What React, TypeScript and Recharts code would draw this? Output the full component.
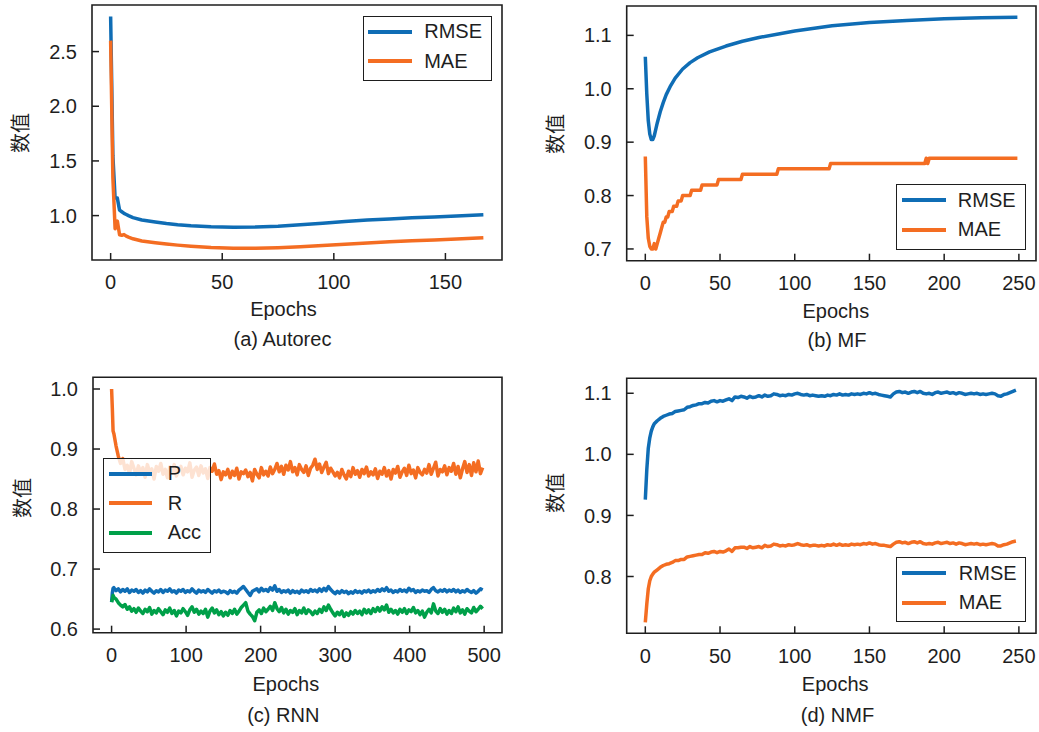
import React from 'react';
import { LineChart, Line, XAxis, YAxis, Legend, ReferenceArea } from 'recharts';

// ---------- (a) Autorec ----------
const autorecEpochs = [0, 1, 2, 3, 4, 5, 6, 7, 8, 10, 14, 20, 25, 30, 36, 45, 55, 65, 75, 85, 95, 105, 115, 125, 135, 145, 155, 167];
const autorecRmse = [2.82, 1.55, 1.16, 1.16, 1.05, 1.035, 1.02, 1.01, 1.0, 0.982, 0.96, 0.942, 0.928, 0.917, 0.907, 0.898, 0.894, 0.896, 0.903, 0.916, 0.931, 0.946, 0.959, 0.97, 0.98, 0.988, 0.996, 1.008];
const autorecMae = [2.6, 1.35, 0.88, 0.95, 0.825, 0.82, 0.826, 0.812, 0.803, 0.788, 0.768, 0.752, 0.74, 0.73, 0.72, 0.708, 0.702, 0.702, 0.707, 0.716, 0.727, 0.738, 0.75, 0.76, 0.769, 0.778, 0.786, 0.797];

// ---------- (b) MF ----------
const mfRmseEpochs = [0, 1, 2, 3, 4, 5, 6, 7, 8, 10, 12, 14, 17, 20, 25, 30, 35, 43, 54, 65, 76, 90, 100, 125, 150, 175, 200, 225, 249];
const mfRmse = [1.06, 0.99, 0.94, 0.915, 0.905, 0.905, 0.912, 0.924, 0.936, 0.957, 0.974, 0.989, 1.006, 1.02, 1.037, 1.049, 1.058, 1.069, 1.08, 1.089, 1.096, 1.103, 1.108, 1.118, 1.124, 1.128, 1.131, 1.133, 1.134];
const mfMaeEpochs = [0, 1, 2, 3, 4, 5, 6, 7, 8, 9, 10, 11, 12, 13, 14, 15, 16, 18, 19, 21, 22, 24, 25, 30, 31, 37, 38, 48, 49, 64, 65, 88, 89, 123, 124, 187, 188, 189, 190, 249];
const mfMae = [0.873, 0.76, 0.72, 0.705, 0.7, 0.7, 0.71, 0.7, 0.71, 0.72, 0.73, 0.74, 0.75, 0.75, 0.76, 0.76, 0.77, 0.77, 0.78, 0.78, 0.79, 0.79, 0.8, 0.8, 0.81, 0.81, 0.82, 0.82, 0.83, 0.83, 0.84, 0.84, 0.85, 0.85, 0.86, 0.86, 0.87, 0.86, 0.87, 0.87];

// ---------- (c) RNN ----------
const rnnEpochs = [0, 1, 2, ...Array.from({ length: 166 }, (_, i) => 3 + 3 * i)];
const rnnR = [
  1.0, 0.968, 0.93,
  0.926, 0.905, 0.888, 0.876, 0.884, 0.866, 0.873, 0.859, 0.879, 0.868,
  0.857, 0.872, 0.861, 0.869, 0.853, 0.874, 0.862, 0.867, 0.85, 0.871,
  0.863, 0.876, 0.858, 0.866, 0.852, 0.87, 0.861, 0.874, 0.855, 0.866,
  0.871, 0.857, 0.868, 0.862, 0.877, 0.853, 0.865, 0.87, 0.856, 0.872,
  0.86, 0.867, 0.851, 0.869, 0.863, 0.875, 0.858, 0.864, 0.849, 0.862,
  0.857, 0.866, 0.852, 0.863, 0.856, 0.868, 0.85, 0.862, 0.859, 0.865,
  0.854, 0.861, 0.847, 0.866, 0.858, 0.852, 0.869, 0.857, 0.863, 0.855,
  0.87, 0.859, 0.866, 0.876, 0.862, 0.871, 0.858, 0.873, 0.865, 0.879,
  0.862, 0.869, 0.857, 0.874, 0.866, 0.861, 0.872, 0.856, 0.868, 0.873,
  0.883, 0.866, 0.875, 0.861, 0.87, 0.878, 0.859, 0.868, 0.862, 0.855,
  0.861, 0.852, 0.866, 0.857, 0.85, 0.863, 0.854, 0.869, 0.858, 0.864,
  0.853, 0.866, 0.859, 0.87, 0.855, 0.862, 0.857, 0.867, 0.851, 0.863,
  0.858, 0.869, 0.855, 0.864, 0.85, 0.866, 0.86, 0.871, 0.853, 0.862,
  0.868, 0.856, 0.873, 0.859, 0.865, 0.852, 0.869, 0.861, 0.857, 0.866,
  0.86, 0.874, 0.858, 0.868, 0.878, 0.855, 0.866, 0.862, 0.872, 0.857,
  0.869, 0.863, 0.876, 0.858, 0.871, 0.852, 0.867, 0.879, 0.861, 0.874,
  0.856, 0.877, 0.862, 0.88, 0.859, 0.869,
];
const rnnP = [
  0.645, 0.66, 0.668,
  0.669, 0.664, 0.667, 0.662, 0.666, 0.663, 0.667, 0.661, 0.665, 0.663,
  0.666, 0.661, 0.664, 0.66, 0.665, 0.662, 0.667, 0.663, 0.66, 0.664,
  0.662, 0.666, 0.661, 0.665, 0.663, 0.667, 0.662, 0.664, 0.66, 0.665,
  0.663, 0.666, 0.661, 0.664, 0.662, 0.667, 0.663, 0.66, 0.665, 0.662,
  0.664, 0.661, 0.666, 0.663, 0.66, 0.664, 0.662, 0.665, 0.661, 0.663,
  0.662, 0.659, 0.664, 0.661, 0.663, 0.66, 0.665, 0.668, 0.671, 0.666,
  0.661, 0.656, 0.663, 0.665, 0.667, 0.662, 0.668, 0.664, 0.666, 0.663,
  0.669, 0.665, 0.672, 0.663, 0.666, 0.661, 0.664, 0.662, 0.665, 0.66,
  0.664, 0.661, 0.663, 0.66, 0.665, 0.662, 0.664, 0.661, 0.666, 0.663,
  0.665, 0.662, 0.667, 0.663, 0.668, 0.664, 0.671, 0.666, 0.662, 0.659,
  0.663, 0.66, 0.664, 0.661, 0.663, 0.659, 0.662, 0.66, 0.664, 0.661,
  0.663, 0.66, 0.664, 0.662, 0.665, 0.661, 0.664, 0.662, 0.666, 0.663,
  0.667, 0.664, 0.669, 0.663, 0.665, 0.661, 0.664, 0.662, 0.666, 0.663,
  0.665, 0.662, 0.668, 0.664, 0.666, 0.661, 0.664, 0.662, 0.665, 0.663,
  0.664, 0.661, 0.666, 0.669, 0.664, 0.662, 0.665, 0.663, 0.666, 0.662,
  0.665, 0.663, 0.666, 0.662, 0.665, 0.661, 0.664, 0.662, 0.666, 0.663,
  0.661, 0.664, 0.66, 0.663, 0.667, 0.665,
];
const rnnAcc = [
  0.645, 0.65, 0.656,
  0.653, 0.65, 0.644, 0.64, 0.637, 0.641, 0.633, 0.637, 0.63, 0.634,
  0.628, 0.635, 0.63, 0.626, 0.633, 0.629, 0.636, 0.625, 0.631, 0.627,
  0.634, 0.629, 0.624, 0.632, 0.628, 0.635, 0.626, 0.631, 0.622, 0.63,
  0.627, 0.634, 0.629, 0.623, 0.632, 0.637, 0.628, 0.633, 0.625, 0.63,
  0.626, 0.633, 0.62, 0.63, 0.635, 0.627, 0.632, 0.624, 0.629, 0.622,
  0.628, 0.623, 0.631, 0.626, 0.633, 0.625, 0.63, 0.636, 0.64, 0.644,
  0.63, 0.625, 0.621, 0.614, 0.628, 0.632, 0.626, 0.635, 0.629, 0.633,
  0.638, 0.631, 0.644, 0.634, 0.629, 0.636, 0.627, 0.633, 0.625, 0.631,
  0.628, 0.634, 0.624, 0.631, 0.627, 0.635, 0.626, 0.632, 0.629, 0.624,
  0.63, 0.626, 0.633, 0.628, 0.637, 0.631, 0.64, 0.633, 0.627, 0.622,
  0.628, 0.624, 0.63, 0.621, 0.627, 0.623, 0.629, 0.625, 0.631, 0.626,
  0.63, 0.624, 0.633, 0.627, 0.632, 0.626, 0.634, 0.629, 0.636, 0.63,
  0.637, 0.632, 0.64, 0.628, 0.633, 0.627, 0.631, 0.625, 0.633, 0.628,
  0.634, 0.626, 0.632, 0.629, 0.636, 0.627, 0.631, 0.624, 0.63, 0.62,
  0.628, 0.633, 0.627, 0.642, 0.63, 0.626, 0.634, 0.628, 0.633, 0.625,
  0.631, 0.626, 0.635, 0.629, 0.637, 0.627, 0.632, 0.625, 0.634, 0.63,
  0.627, 0.636, 0.629, 0.633, 0.638, 0.634,
];

// ---------- (d) NMF ----------
const nmfEpochs = [0, 1, 2, 3, 4, 5, 6, ...Array.from({ length: 121 }, (_, i) => 8 + 2 * i)];
const nmfRmse = [
  0.926, 0.975, 1.01, 1.027, 1.038, 1.045, 1.05,
  1.055, 1.059, 1.062, 1.064, 1.066, 1.067, 1.07, 1.071, 1.072, 1.073,
  1.077, 1.078, 1.08, 1.081, 1.083, 1.083, 1.085, 1.084, 1.087, 1.088,
  1.086, 1.088, 1.087, 1.089, 1.091, 1.088, 1.094, 1.093, 1.095, 1.094,
  1.092, 1.095, 1.093, 1.094, 1.096, 1.094, 1.097, 1.095, 1.096, 1.099,
  1.098, 1.096, 1.097, 1.096, 1.098, 1.097, 1.099, 1.1, 1.098, 1.097,
  1.098, 1.096, 1.097, 1.096, 1.095, 1.096, 1.095, 1.097, 1.096, 1.098,
  1.097, 1.099, 1.097, 1.098, 1.097, 1.099, 1.098, 1.099, 1.098, 1.1,
  1.099, 1.101, 1.099, 1.1, 1.098, 1.097, 1.096, 1.095, 1.094, 1.099,
  1.102, 1.103, 1.101, 1.102, 1.1, 1.102, 1.103, 1.101, 1.103, 1.1,
  1.099, 1.1, 1.098, 1.101, 1.102, 1.1, 1.101, 1.102, 1.1, 1.101,
  1.099, 1.101, 1.1, 1.098, 1.099, 1.1, 1.099, 1.1, 1.098, 1.099,
  1.098, 1.099, 1.1, 1.099, 1.096, 1.095, 1.098, 1.099, 1.101, 1.103,
  1.105,
];
const nmfMae = [
  0.725, 0.755, 0.78, 0.793, 0.8, 0.804, 0.807,
  0.811, 0.815, 0.818, 0.82, 0.821, 0.823, 0.826, 0.826, 0.828, 0.828,
  0.832, 0.833, 0.834, 0.835, 0.836, 0.836, 0.839, 0.838, 0.84, 0.841,
  0.839, 0.841, 0.84, 0.842, 0.845, 0.841, 0.847, 0.847, 0.848, 0.848,
  0.846, 0.849, 0.847, 0.848, 0.849, 0.847, 0.851, 0.849, 0.85, 0.853,
  0.852, 0.85, 0.851, 0.85, 0.852, 0.851, 0.852, 0.854, 0.852, 0.851,
  0.852, 0.85, 0.851, 0.851, 0.85, 0.851, 0.85, 0.852, 0.851, 0.853,
  0.851, 0.853, 0.851, 0.852, 0.851, 0.853, 0.852, 0.853, 0.852, 0.854,
  0.853, 0.855, 0.853, 0.854, 0.852, 0.851, 0.851, 0.85, 0.849, 0.853,
  0.856, 0.857, 0.855, 0.856, 0.854, 0.856, 0.857, 0.855, 0.857, 0.854,
  0.853, 0.854, 0.853, 0.855, 0.856, 0.854, 0.855, 0.856, 0.854, 0.855,
  0.853, 0.855, 0.854, 0.852, 0.853, 0.854, 0.853, 0.854, 0.852, 0.853,
  0.852, 0.853, 0.854, 0.853, 0.85, 0.85, 0.852, 0.853, 0.855, 0.857,
  0.858,
];

// ---------- axes ----------
const autorecXTicks = [0, 50, 100, 150];
const autorecYTicks = [1.0, 1.5, 2.0, 2.5];
const mfXTicks = [0, 50, 100, 150, 200, 250];
const mfYTicks = [0.7, 0.8, 0.9, 1.0, 1.1];
const rnnXTicks = [0, 100, 200, 300, 400, 500];
const rnnYTicks = [0.6, 0.7, 0.8, 0.9, 1.0];
const nmfXTicks = [0, 50, 100, 150, 200, 250];
const nmfYTicks = [0.8, 0.9, 1.0, 1.1];

const BLUE = '#0f6db5';
const ORANGE = '#f46d22';
const GREEN = '#00a049';
const INK = '#1e1e1e';
const FONT = '"Liberation Sans", Arial, Helvetica, sans-serif';
const CJK = '"Noto Sans CJK SC", "Noto Sans CJK JP", sans-serif';
const FS = 20;

type Series = { name: string; color: string; epochs: number[]; values: number[] };
type LegendCfg = { left: number; top: number; width: number; height: number; lineX: number; lineLen: number; textX: number };
type PanelCfg = {
  left: number; top: number; width: number; height: number;
  mTop: number; mRight: number; yAxisWidth: number; xAxisHeight: number;
  xDomain: [number, number]; xTicks: number[];
  yDomain: [number, number]; yTicks: number[];
  series: Series[]; legend: LegendCfg;
};

const toRows = (epochs: number[], values: number[]) => epochs.map((e, i) => ({ epoch: e, value: values[i] }));

function LegendBox({ items, cfg }: { items: Series[]; cfg: LegendCfg }) {
  return (
    <div
      style={{
        position: 'relative', boxSizing: 'border-box', width: cfg.width, height: cfg.height,
        border: `1.5px solid ${INK}`, background: 'rgba(255,255,255,0.8)',
        fontFamily: FONT, fontSize: FS, color: INK,
      }}
    >
      {items.map((it, i) => {
        const cy = 15 + 29.5 * i;
        return (
          <React.Fragment key={it.name}>
            <div style={{ position: 'absolute', left: cfg.lineX, top: cy - 2, width: cfg.lineLen, height: 4, background: it.color }} />
            <span style={{ position: 'absolute', left: cfg.textX, top: cy - 11.5, lineHeight: '23px', whiteSpace: 'nowrap' }}>{it.name}</span>
          </React.Fragment>
        );
      })}
    </div>
  );
}

function Panel({ p }: { p: PanelCfg }) {
  const tickStyle = { fill: INK, fontSize: FS, fontFamily: FONT };
  const tickLine = { stroke: INK, strokeWidth: 1.5 };
  return (
    <div style={{ position: 'absolute', left: p.left, top: p.top }}>
      <LineChart width={p.width} height={p.height} margin={{ top: p.mTop, right: p.mRight, bottom: 0, left: 0 }}>
        <XAxis
          type="number" dataKey="epoch" domain={p.xDomain} ticks={p.xTicks} allowDataOverflow
          height={p.xAxisHeight} tickSize={-7} tickMargin={22} axisLine={false} tickLine={tickLine}
          tick={tickStyle} interval={0}
        />
        <YAxis
          type="number" domain={p.yDomain} ticks={p.yTicks} allowDataOverflow width={p.yAxisWidth}
          tickSize={-7} tickMargin={22} axisLine={false} tickLine={tickLine} tick={tickStyle}
          tickFormatter={(v: number) => v.toFixed(1)} interval={0}
        />
        <ReferenceArea
          x1={p.xDomain[0]} x2={p.xDomain[1]} y1={p.yDomain[0]} y2={p.yDomain[1]}
          fill="none" fillOpacity={0} stroke={INK} strokeWidth={1.6} ifOverflow="visible"
        />
        {p.series.map((s) => (
          <Line
            key={s.name} data={toRows(s.epochs, s.values)} dataKey="value" name={s.name} type="linear"
            stroke={s.color} strokeWidth={3.5} strokeLinejoin="round" dot={false} activeDot={false}
            isAnimationActive={false}
          />
        ))}
        <Legend
          layout="vertical" align="center" verticalAlign="middle"
          wrapperStyle={{ left: p.legend.left, top: p.legend.top, width: p.legend.width, height: p.legend.height }}
          content={() => <LegendBox items={p.series} cfg={p.legend} />}
        />
      </LineChart>
    </div>
  );
}

const panels: PanelCfg[] = [
  {
    left: 0, top: 0, width: 520, height: 366, mTop: 5, mRight: 18, yAxisWidth: 92, xAxisHeight: 106,
    xDomain: [-8.35, 175.35], xTicks: autorecXTicks, yDomain: [0.594, 2.926], yTicks: autorecYTicks,
    series: [
      { name: 'RMSE', color: BLUE, epochs: autorecEpochs, values: autorecRmse },
      { name: 'MAE', color: ORANGE, epochs: autorecEpochs, values: autorecMae },
    ],
    legend: { left: 362.7, top: 15.7, width: 129, height: 65, lineX: 4.5, lineLen: 44, textX: 60.5 },
  },
  {
    left: 520, top: 0, width: 519, height: 366, mTop: 6, mRight: 3, yAxisWidth: 106.7, xAxisHeight: 105.3,
    xDomain: [-12.45, 261.45], xTicks: mfXTicks, yDomain: [0.678, 1.155], yTicks: mfYTicks,
    series: [
      { name: 'RMSE', color: BLUE, epochs: mfRmseEpochs, values: mfRmse },
      { name: 'MAE', color: ORANGE, epochs: mfMaeEpochs, values: mfMae },
    ],
    legend: { left: 376, top: 184.3, width: 129.7, height: 65.7, lineX: 4.8, lineLen: 44, textX: 60.8 },
  },
  {
    left: 0, top: 366, width: 520, height: 366, mTop: 11.3, mRight: 18, yAxisWidth: 93, xAxisHeight: 99.3,
    xDomain: [-24.95, 523.95], xTicks: rnnXTicks, yDomain: [0.594, 1.0195], yTicks: rnnYTicks,
    series: [
      { name: 'P', color: BLUE, epochs: rnnEpochs, values: rnnP },
      { name: 'R', color: ORANGE, epochs: rnnEpochs, values: rnnR },
      { name: 'Acc', color: GREEN, epochs: rnnEpochs, values: rnnAcc },
    ],
    legend: { left: 102.7, top: 91.7, width: 108.3, height: 95, lineX: 5.8, lineLen: 42.7, textX: 64.1 },
  },
  {
    left: 520, top: 366, width: 519, height: 366, mTop: 12.3, mRight: 3, yAxisWidth: 106.7, xAxisHeight: 98.7,
    xDomain: [-12.45, 261.45], xTicks: nmfXTicks, yDomain: [0.707, 1.1245], yTicks: nmfYTicks,
    series: [
      { name: 'RMSE', color: BLUE, epochs: nmfEpochs, values: nmfRmse },
      { name: 'MAE', color: ORANGE, epochs: nmfEpochs, values: nmfMae },
    ],
    legend: { left: 376, top: 191.3, width: 129.7, height: 64.4, lineX: 4.8, lineLen: 44, textX: 61.8 },
  },
];

const yTitles = [
  { x: 19, y: 133 },
  { x: 554, y: 134 },
  { x: 21, y: 498 },
  { x: 554.2, y: 493 },
];
const xTitles = [
  { x: 283.5, y: 315.5 },
  { x: 835.8, y: 317.5 },
  { x: 285.8, y: 690.5 },
  { x: 835.2, y: 690.5 },
];
const captions = [
  { x: 282.5, y: 345.5, text: '(a) Autorec' },
  { x: 837, y: 347, text: '(b) MF' },
  { x: 283.3, y: 722, text: '(c) RNN' },
  { x: 837.5, y: 722, text: '(d) NMF' },
];

export default function App() {
  return (
    <div style={{ position: 'absolute', left: 0, top: 0, width: 1039, height: 732, background: '#ffffff', overflow: 'hidden' }}>
      {panels.map((p, i) => (
        <Panel key={i} p={p} />
      ))}
      <svg width={1039} height={732} style={{ position: 'absolute', left: 0, top: 0, pointerEvents: 'none' }}>
        {yTitles.map((t, i) => (
          <text
            key={'y' + i} x={t.x} y={t.y} transform={`rotate(-90 ${t.x} ${t.y})`} textAnchor="middle"
            dominantBaseline="central" fontFamily={CJK} fontSize={20} fill={INK}
          >
            数值
          </text>
        ))}
        {xTitles.map((t, i) => (
          <text key={'x' + i} x={t.x} y={t.y} textAnchor="middle" fontFamily={FONT} fontSize={FS} fill={INK}>
            Epochs
          </text>
        ))}
        {captions.map((c, i) => (
          <text key={'c' + i} x={c.x} y={c.y} textAnchor="middle" fontFamily={FONT} fontSize={FS} fill={INK}>
            {c.text}
          </text>
        ))}
      </svg>
    </div>
  );
}
